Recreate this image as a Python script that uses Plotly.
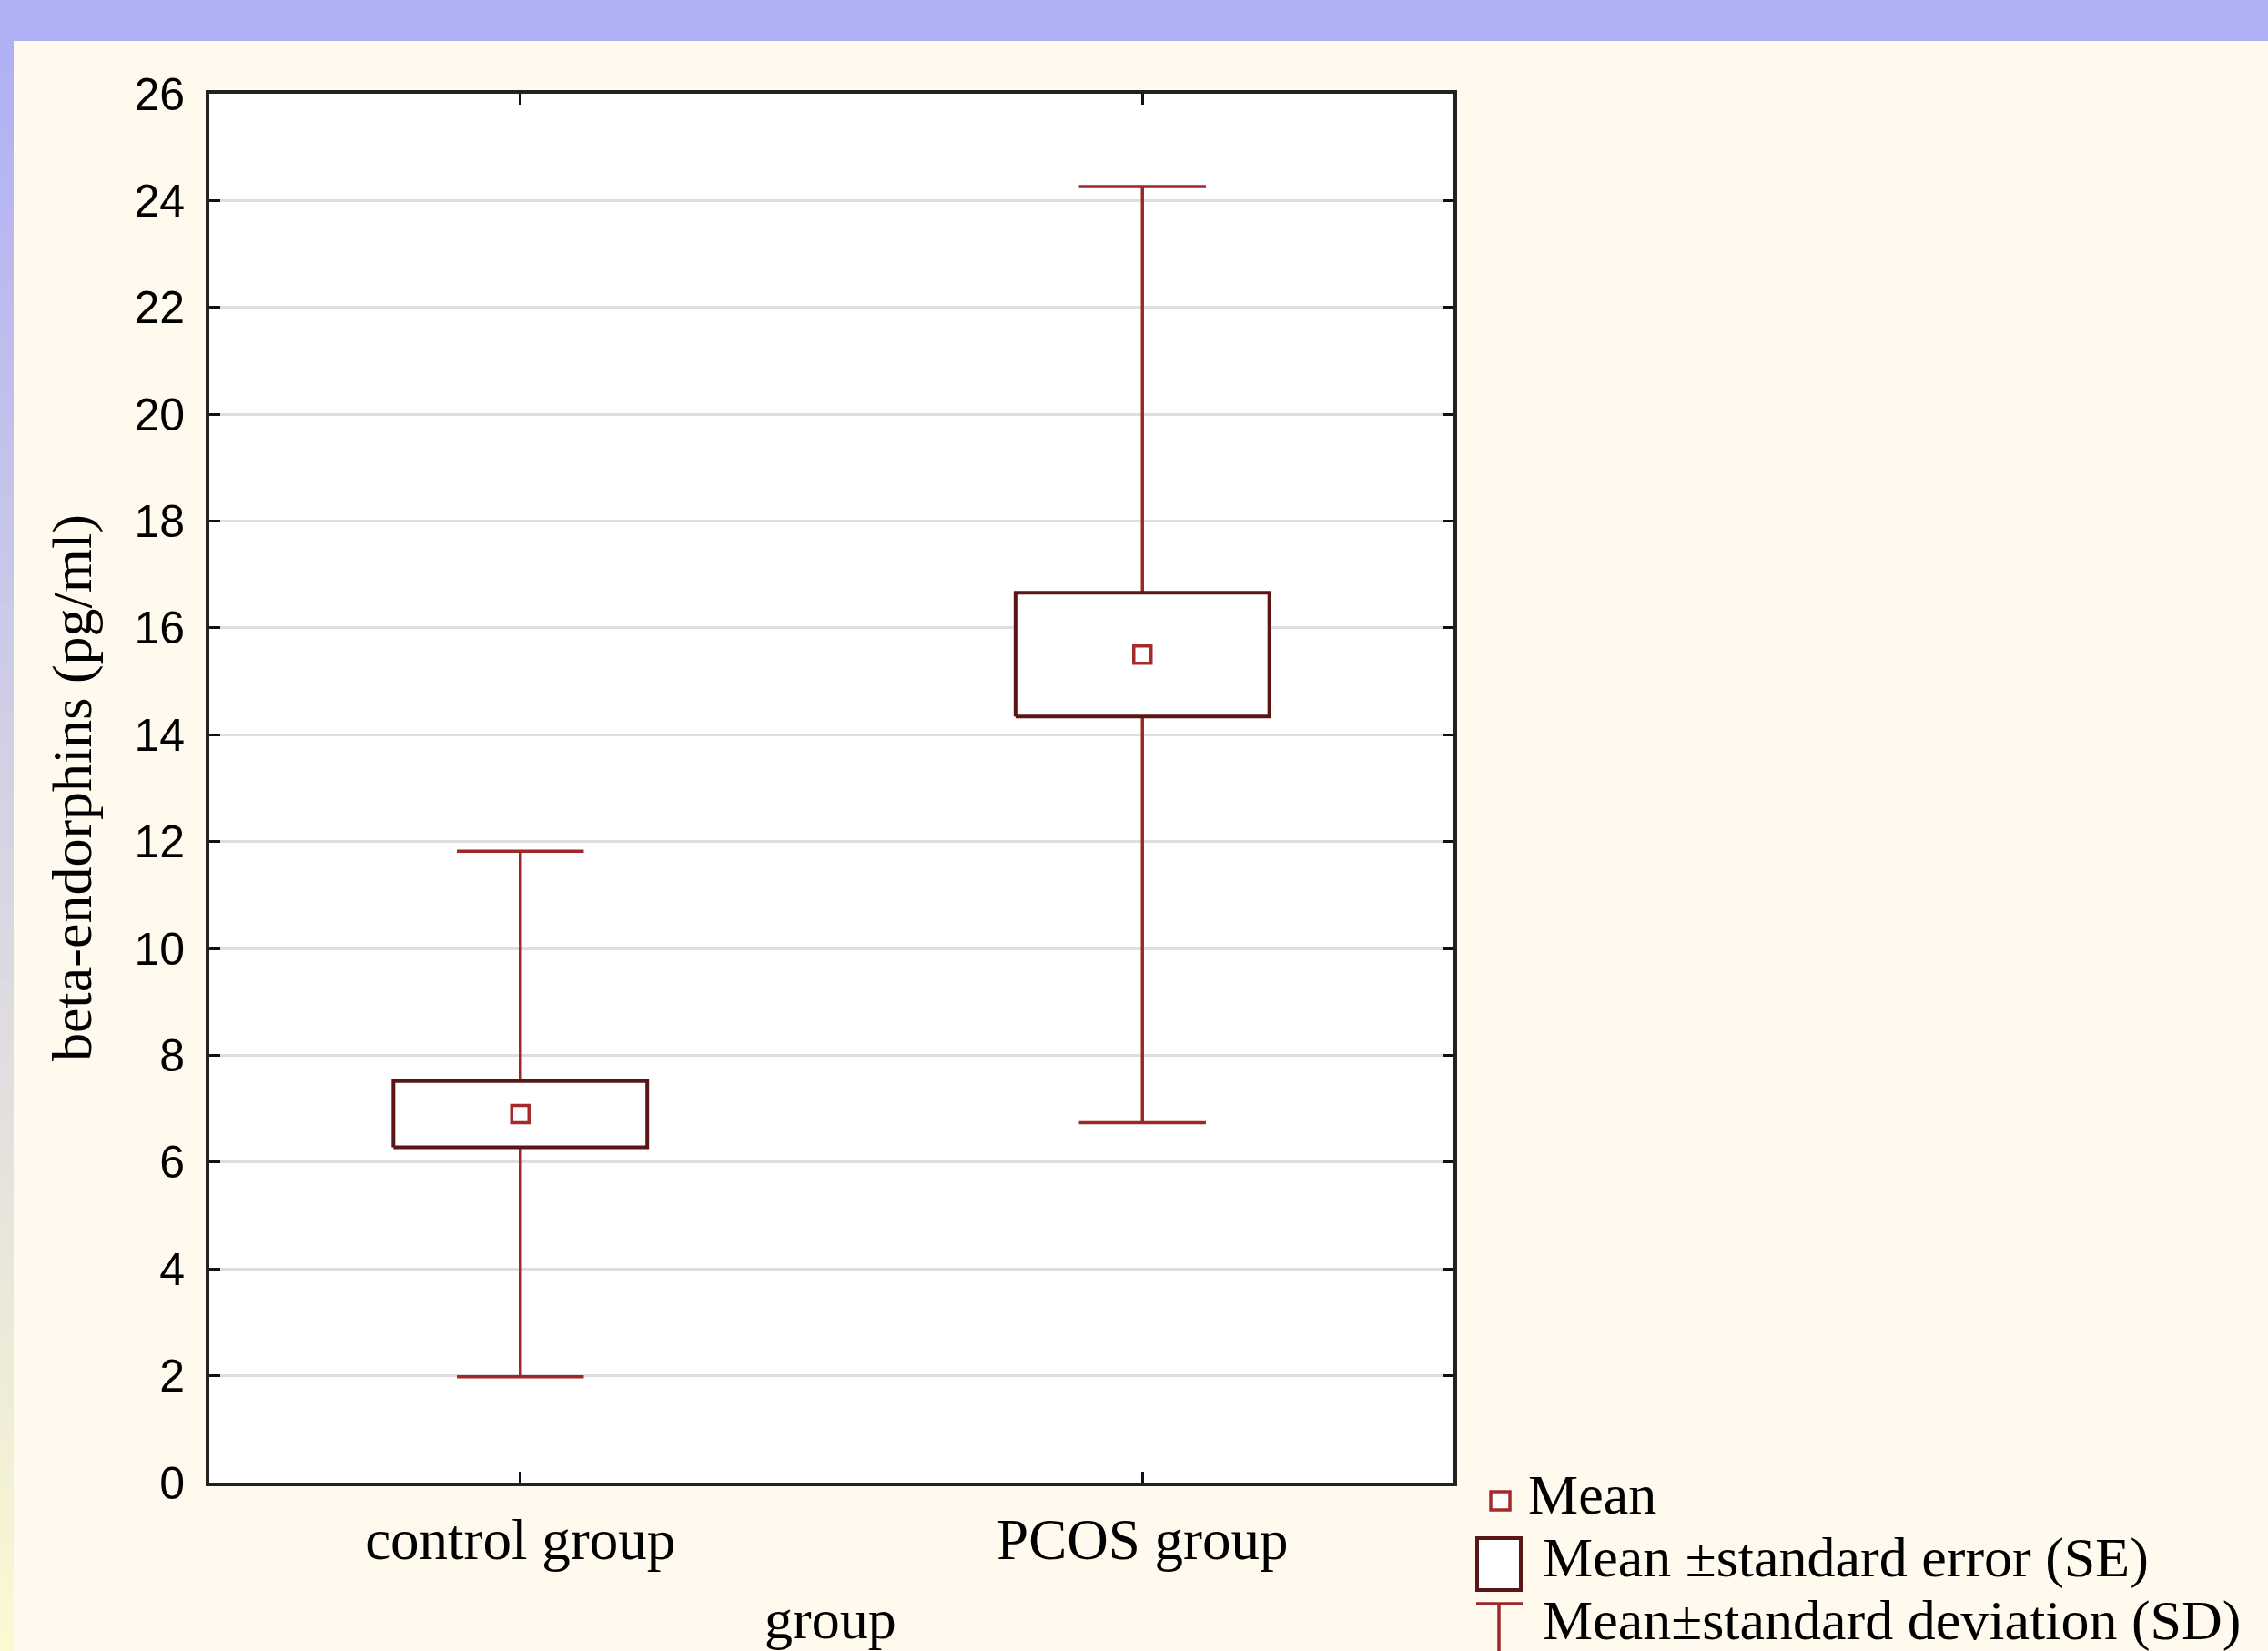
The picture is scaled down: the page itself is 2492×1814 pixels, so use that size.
import plotly.graph_objects as go

# ---------------- data ----------------
groups = ["control group", "PCOS group"]
means = [6.9, 15.5]
se = [0.62, 1.16]
sd = [4.92, 8.76]
y_ticks = [0, 2, 4, 6, 8, 10, 12, 14, 16, 18, 20, 22, 24, 26]

# ---------------- geometry / style ----------------
W, H = 2492, 1814
L, R, T, B = 230, 1597, 103, 1629          # plot area in pixels
BOX_HALF = 0.204
CAP_HALF = 0.102
WHISKER = "#A1262A"
BOXLINE = "#5A1616"
MEANC = "#A52A2A"
SERIF = "Liberation Serif, Times New Roman, serif"
SANS = "Liberation Sans, Arial, sans-serif"


def px(xp):
    return (xp - L) / (R - L)


def py(yp):
    return (B - yp) / (B - T)


xpos = list(range(len(groups)))

fig = go.Figure()

# whiskers (mean +/- SD) with caps
wx, wy = [], []
for i, m, e, d in zip(xpos, means, se, sd):
    wx += [i, i, None, i, i, None, i - CAP_HALF, i + CAP_HALF, None, i - CAP_HALF, i + CAP_HALF, None]
    wy += [m + e, m + d, None, m - e, m - d, None, m + d, m + d, None, m - d, m - d, None]
fig.add_trace(go.Scatter(x=wx, y=wy, mode="lines", line=dict(color=WHISKER, width=3.5),
                         showlegend=False, hoverinfo="skip"))

# boxes (mean +/- SE)
for i, m, e in zip(xpos, means, se):
    fig.add_trace(go.Scatter(
        x=[i - BOX_HALF, i + BOX_HALF, i + BOX_HALF, i - BOX_HALF, i - BOX_HALF],
        y=[m - e, m - e, m + e, m + e, m - e],
        mode="lines", fill="toself", fillcolor="white",
        line=dict(color=BOXLINE, width=4), showlegend=False, hoverinfo="skip"))

# means
fig.add_trace(go.Scatter(x=xpos, y=means, mode="markers",
                         marker=dict(symbol="square-open", size=19, color=MEANC,
                                     line=dict(width=3.5, color=MEANC)),
                         showlegend=False))

shapes = []
# background decoration: top band and left gradient strip
shapes.append(dict(type="rect", xref="paper", yref="paper", layer="below",
                   x0=px(0), x1=px(W), y0=py(45), y1=py(0),
                   fillcolor="#B0B0F5", line=dict(width=0)))
c0 = (176, 176, 244)
c1 = (251, 248, 210)
nb = 60
y_top, y_bot = 45, H
for k in range(nb):
    t = k / (nb - 1)
    col = "rgb(%d,%d,%d)" % tuple(round(a + (b - a) * t) for a, b in zip(c0, c1))
    ya = y_top + (y_bot - y_top) * k / nb
    yb = y_top + (y_bot - y_top) * (k + 1) / nb
    shapes.append(dict(type="rect", xref="paper", yref="paper", layer="below",
                       x0=px(0), x1=px(15), y0=py(yb + 1), y1=py(ya),
                       fillcolor=col, line=dict(width=0)))

# custom legend symbols
shapes.append(dict(type="rect", xref="paper", yref="paper",
                   x0=px(1638), x1=px(1659), y0=py(1659), y1=py(1639),
                   fillcolor="white", line=dict(color=MEANC, width=3.5)))
shapes.append(dict(type="rect", xref="paper", yref="paper",
                   x0=px(1623), x1=px(1671), y0=py(1747), y1=py(1690),
                   fillcolor="white", line=dict(color=BOXLINE, width=4)))
shapes.append(dict(type="line", xref="paper", yref="paper",
                   x0=px(1622), x1=px(1673), y0=py(1762), y1=py(1762),
                   line=dict(color=WHISKER, width=3.5)))
shapes.append(dict(type="line", xref="paper", yref="paper",
                   x0=px(1647), x1=px(1647), y0=py(1762), y1=py(1830),
                   line=dict(color=WHISKER, width=3.5)))

annotations = [
    dict(text="Mean", x=px(1677), y=py(1642), xref="paper", yref="paper",
         xanchor="left", yanchor="middle", showarrow=False,
         font=dict(family=SERIF, size=62, color="black")),
    dict(text="Mean \u00b1standard error (SE)", x=px(1693), y=py(1711), xref="paper", yref="paper",
         xanchor="left", yanchor="middle", showarrow=False,
         font=dict(family=SERIF, size=62, color="black")),
    dict(text="Mean\u00b1standard deviation (SD)", x=px(1693), y=py(1780), xref="paper", yref="paper",
         xanchor="left", yanchor="middle", showarrow=False,
         font=dict(family=SERIF, size=62, color="black")),
    dict(text="beta-endorphins (pg/ml)", x=px(79), y=py(866), xref="paper", yref="paper",
         xanchor="center", yanchor="middle", textangle=-90, showarrow=False,
         font=dict(family=SERIF, size=62, color="black")),
    dict(text="group", x=px(912), y=py(1779), xref="paper", yref="paper",
         xanchor="center", yanchor="middle", showarrow=False,
         font=dict(family=SERIF, size=62, color="black")),
]

fig.update_layout(
    width=W, height=H,
    margin=dict(l=L, r=W - R, t=T, b=H - B, pad=0, autoexpand=False),
    paper_bgcolor="#FFF9EE", plot_bgcolor="white",
    showlegend=False,
    shapes=shapes, annotations=annotations,
    xaxis=dict(range=[-0.5, 1.5], tickmode="array", tickvals=xpos, ticktext=groups,
               ticks="inside", ticklen=12, tickwidth=3, tickcolor="#111",
               showline=True, linewidth=4, linecolor="#222", mirror="ticks",
               showgrid=False, zeroline=False, ticklabelstandoff=4,
               tickfont=dict(family=SERIF, size=63, color="black")),
    yaxis=dict(range=[0, 26], tickmode="array", tickvals=y_ticks,
               ticks="inside", ticklen=12, tickwidth=3, tickcolor="#111",
               showline=True, linewidth=4, linecolor="#222", mirror="ticks",
               showgrid=True, gridcolor="#DEDEDE", gridwidth=2.5, zeroline=False,
               ticklabelstandoff=13,
               tickfont=dict(family=SANS, size=50, color="black")),
)

fig.write_html("out.html", config={"displayModeBar": False},
               post_script="document.body.style.margin='0';document.body.style.overflow='hidden';")
